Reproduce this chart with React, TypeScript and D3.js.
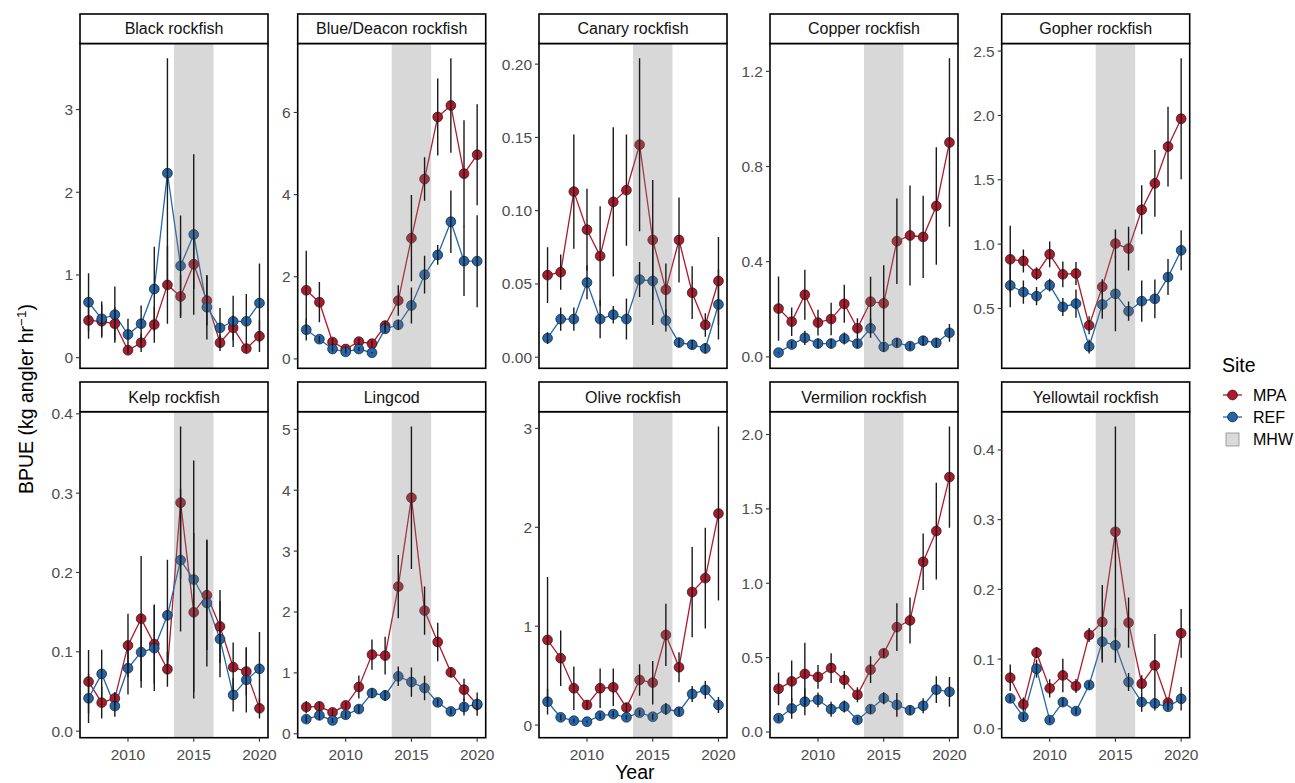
import React from "react";
import * as d3 from "d3";

const years = [2007, 2008, 2009, 2010, 2011, 2012, 2013, 2014, 2015, 2016, 2017, 2018, 2019, 2020];
const mhwStart = 2013.5;
const mhwEnd = 2016.5;
const siteNames = ["MPA", "REF"];

const blackMPA = [0.45, 0.44, 0.41, 0.09, 0.18, 0.4, 0.88, 0.74, 1.13, 0.69, 0.18, 0.36, 0.11, 0.26];
const blackMPAse = [0.22, 0.2, 0.2, 0.04, 0.11, 0.22, 0.47, 0.26, 0.3, 0.3, 0.1, 0.15, 0.05, 0.19];
const blackREF = [0.67, 0.47, 0.52, 0.28, 0.41, 0.83, 2.23, 1.11, 1.49, 0.61, 0.36, 0.44, 0.44, 0.66];
const blackREFse = [0.35, 0.21, 0.34, 0.19, 0.22, 0.51, 1.39, 0.61, 0.97, 0.39, 0.24, 0.31, 0.33, 0.48];
const blackTicks = [0, 1, 2, 3];

const blueMPA = [1.67, 1.38, 0.41, 0.24, 0.42, 0.37, 0.81, 1.42, 2.94, 4.38, 5.89, 6.17, 4.51, 4.97];
const blueMPAse = [0.96, 0.49, 0.1, 0.06, 0.08, 0.08, 0.12, 0.37, 1.05, 0.53, 0.94, 1.15, 1.3, 1.23];
const blueREF = [0.71, 0.48, 0.24, 0.17, 0.24, 0.15, 0.73, 0.83, 1.3, 2.05, 2.53, 3.34, 2.38, 2.38];
const blueREFse = [0.26, 0.08, 0.06, 0.03, 0.05, 0.02, 0.1, 0.12, 0.44, 0.46, 0.24, 0.76, 0.85, 1.12];
const blueTicks = [0, 2, 4, 6];

const canaryMPA = [0.056, 0.058, 0.113, 0.087, 0.069, 0.106, 0.114, 0.145, 0.08, 0.046, 0.08, 0.044, 0.022, 0.052];
const canaryMPAse = [0.019, 0.012, 0.039, 0.028, 0.034, 0.051, 0.038, 0.059, 0.041, 0.018, 0.029, 0.018, 0.008, 0.03];
const canaryREF = [0.013, 0.026, 0.026, 0.051, 0.026, 0.029, 0.026, 0.053, 0.052, 0.025, 0.01, 0.0085, 0.006, 0.036];
const canaryREFse = [0.004, 0.008, 0.008, 0.0115, 0.013, 0.006, 0.014, 0.012, 0.03, 0.0075, 0.003, 0.003, 0.0035, 0.024];
const canaryTicks = [0, 0.05, 0.1, 0.15, 0.2];

const copperMPA = [0.203, 0.148, 0.261, 0.144, 0.159, 0.223, 0.12, 0.232, 0.225, 0.486, 0.51, 0.504, 0.634, 0.901];
const copperMPAse = [0.135, 0.06, 0.105, 0.054, 0.068, 0.08, 0.042, 0.105, 0.16, 0.18, 0.21, 0.173, 0.247, 0.354];
const copperREF = [0.018, 0.052, 0.08, 0.056, 0.056, 0.077, 0.056, 0.12, 0.042, 0.059, 0.045, 0.068, 0.059, 0.101];
const copperREFse = [0.004, 0.015, 0.03, 0.02, 0.02, 0.025, 0.02, 0.04, 0.02, 0.02, 0.015, 0.02, 0.02, 0.037];
const copperTicks = [0, 0.4, 0.8, 1.2];

const gopherMPA = [0.882, 0.869, 0.77, 0.921, 0.765, 0.772, 0.369, 0.668, 1.004, 0.965, 1.267, 1.472, 1.758, 1.974];
const gopherMPAse = [0.26, 0.09, 0.05, 0.1, 0.1, 0.09, 0.07, 0.06, 0.11, 0.17, 0.19, 0.26, 0.31, 0.47];
const gopherREF = [0.679, 0.627, 0.596, 0.681, 0.512, 0.538, 0.205, 0.531, 0.614, 0.479, 0.557, 0.575, 0.744, 0.952];
const gopherREFse = [0.17, 0.09, 0.07, 0.05, 0.07, 0.11, 0.055, 0.11, 0.29, 0.075, 0.16, 0.15, 0.14, 0.155];
const gopherTicks = [0.5, 1.0, 1.5, 2.0, 2.5];

const kelpMPA = [0.0624, 0.0359, 0.0414, 0.108, 0.1418, 0.1097, 0.078, 0.288, 0.1498, 0.1713, 0.132, 0.0806, 0.0751, 0.0287];
const kelpMPAse = [0.04, 0.02, 0.008, 0.04, 0.079, 0.05, 0.022, 0.096, 0.1, 0.069, 0.046, 0.031, 0.03, 0.0127];
const kelpREF = [0.0414, 0.0722, 0.0316, 0.0793, 0.0996, 0.1046, 0.146, 0.2156, 0.1911, 0.1616, 0.116, 0.0456, 0.0646, 0.0785];
const kelpREFse = [0.031, 0.0303, 0.0136, 0.033, 0.045, 0.054, 0.07, 0.09, 0.15, 0.08, 0.048, 0.021, 0.041, 0.0464];
const kelpTicks = [0, 0.1, 0.2, 0.3, 0.4];

const lingMPA = [0.439, 0.45, 0.351, 0.466, 0.768, 1.3, 1.283, 2.418, 3.876, 2.023, 1.508, 1.009, 0.724, 0.477];
const lingMPAse = [0.1, 0.08, 0.06, 0.06, 0.19, 0.25, 0.31, 0.52, 1.17, 0.395, 0.315, 0.08, 0.18, 0.1];
const lingREF = [0.241, 0.302, 0.219, 0.312, 0.406, 0.669, 0.63, 0.943, 0.85, 0.751, 0.515, 0.367, 0.439, 0.488];
const lingREFse = [0.06, 0.07, 0.04, 0.06, 0.07, 0.08, 0.09, 0.16, 0.24, 0.2, 0.06, 0.05, 0.14, 0.19];
const lingTicks = [0, 1, 2, 3, 4, 5];

const oliveMPA = [0.861, 0.676, 0.372, 0.203, 0.372, 0.382, 0.176, 0.456, 0.429, 0.912, 0.584, 1.345, 1.486, 2.139];
const oliveMPAse = [0.636, 0.28, 0.22, 0.04, 0.2, 0.19, 0.05, 0.16, 0.22, 0.314, 0.152, 0.456, 0.51, 0.88];
const oliveREF = [0.236, 0.078, 0.044, 0.034, 0.095, 0.111, 0.078, 0.125, 0.084, 0.162, 0.135, 0.314, 0.355, 0.203];
const oliveREFse = [0.13, 0.03, 0.02, 0.012, 0.03, 0.03, 0.02, 0.03, 0.03, 0.06, 0.04, 0.08, 0.09, 0.08];
const oliveTicks = [0, 1, 2, 3];

const vermMPA = [0.29, 0.34, 0.39, 0.37, 0.43, 0.35, 0.25, 0.419, 0.529, 0.705, 0.75, 1.144, 1.351, 1.714];
const vermMPAse = [0.11, 0.14, 0.21, 0.08, 0.1, 0.06, 0.05, 0.09, 0.03, 0.16, 0.155, 0.19, 0.325, 0.34];
const vermREF = [0.092, 0.158, 0.203, 0.216, 0.153, 0.171, 0.081, 0.153, 0.227, 0.182, 0.146, 0.176, 0.284, 0.27];
const vermREFse = [0.02, 0.07, 0.09, 0.05, 0.05, 0.04, 0.02, 0.03, 0.04, 0.08, 0.03, 0.05, 0.09, 0.1];
const vermTicks = [0, 0.5, 1.0, 1.5, 2.0];

const yellowMPA = [0.0733, 0.035, 0.1092, 0.058, 0.0766, 0.0613, 0.1346, 0.1533, 0.2826, 0.1523, 0.0647, 0.091, 0.0374, 0.137];
const yellowMPAse = [0.019, 0.01, 0.008, 0.013, 0.024, 0.01, 0.01, 0.053, 0.151, 0.036, 0.012, 0.045, 0.005, 0.035];
const yellowREF = [0.0436, 0.0172, 0.0862, 0.0125, 0.0383, 0.0254, 0.0628, 0.125, 0.1198, 0.0671, 0.0383, 0.0364, 0.0316, 0.0431];
const yellowREFse = [0.005, 0.005, 0.013, 0.004, 0.006, 0.005, 0.005, 0.03, 0.025, 0.013, 0.014, 0.01, 0.005, 0.017];
const yellowTicks = [0, 0.1, 0.2, 0.3, 0.4];

const xTicks = [2010, 2015, 2020];

const panels = [
  { name: "Black rockfish", mpa: blackMPA, mpaSE: blackMPAse, ref: blackREF, refSE: blackREFse, ticks: blackTicks, digits: 0 },
  { name: "Blue/Deacon rockfish", mpa: blueMPA, mpaSE: blueMPAse, ref: blueREF, refSE: blueREFse, ticks: blueTicks, digits: 0 },
  { name: "Canary rockfish", mpa: canaryMPA, mpaSE: canaryMPAse, ref: canaryREF, refSE: canaryREFse, ticks: canaryTicks, digits: 2 },
  { name: "Copper rockfish", mpa: copperMPA, mpaSE: copperMPAse, ref: copperREF, refSE: copperREFse, ticks: copperTicks, digits: 1 },
  { name: "Gopher rockfish", mpa: gopherMPA, mpaSE: gopherMPAse, ref: gopherREF, refSE: gopherREFse, ticks: gopherTicks, digits: 1 },
  { name: "Kelp rockfish", mpa: kelpMPA, mpaSE: kelpMPAse, ref: kelpREF, refSE: kelpREFse, ticks: kelpTicks, digits: 1 },
  { name: "Lingcod", mpa: lingMPA, mpaSE: lingMPAse, ref: lingREF, refSE: lingREFse, ticks: lingTicks, digits: 0 },
  { name: "Olive rockfish", mpa: oliveMPA, mpaSE: oliveMPAse, ref: oliveREF, refSE: oliveREFse, ticks: oliveTicks, digits: 0 },
  { name: "Vermilion rockfish", mpa: vermMPA, mpaSE: vermMPAse, ref: vermREF, refSE: vermREFse, ticks: vermTicks, digits: 1 },
  { name: "Yellowtail rockfish", mpa: yellowMPA, mpaSE: yellowMPAse, ref: yellowREF, refSE: yellowREFse, ticks: yellowTicks, digits: 1 },
];

// layout
const COLS = [80, 297.7, 539, 770, 1001.7];
const PANEL_W = 188;
const ROWS = [
  { stripTop: 14, top: 43.5, bottom: 368.3 },
  { stripTop: 382, top: 411.7, bottom: 737.7 },
];
const FONT = "'Liberation Sans', Arial, Helvetica, sans-serif";
const COLORS: Record<string, string> = { MPA: "#B2182B", REF: "#2166AC" };
const PT_R = 4.9;

function Panel({ p, idx }: { p: any; idx: number }) {
  const col = idx % 5;
  const row = Math.floor(idx / 5);
  const left = COLS[col];
  const right = left + PANEL_W;
  const { stripTop, top, bottom } = ROWS[row];

  const x = d3.scaleLinear().domain([years[0] - 0.65, years[years.length - 1] + 0.65]).range([left, right]);
  const lows = [...p.mpa.map((v: number, i: number) => v - p.mpaSE[i]), ...p.ref.map((v: number, i: number) => v - p.refSE[i])];
  const highs = [...p.mpa.map((v: number, i: number) => v + p.mpaSE[i]), ...p.ref.map((v: number, i: number) => v + p.refSE[i])];
  const lo = d3.min(lows) as number;
  const hi = d3.max(highs) as number;
  const pad = (hi - lo) * 0.05;
  const y = d3.scaleLinear().domain([lo - pad, hi + pad]).range([bottom, top]);

  const series = [
    { site: "MPA", vals: p.mpa, se: p.mpaSE },
    { site: "REF", vals: p.ref, se: p.refSE },
  ];
  const line = d3.line<number>().x((_, i) => x(years[i])).y((v) => y(v));
  const fmt = d3.format(`.${p.digits}f`);
  const clipId = `clip${idx}`;

  return (
    <g>
      <defs>
        <clipPath id={clipId}>
          <rect x={left} y={top} width={PANEL_W} height={bottom - top} />
        </clipPath>
      </defs>
      <rect x={left} y={top} width={PANEL_W} height={bottom - top} fill="#fff" />
      <g clipPath={`url(#${clipId})`}>
        {series.map((s) => (
          <path key={s.site + "l"} d={line(s.vals) || ""} fill="none" stroke={COLORS[s.site]} strokeWidth={1.3} />
        ))}
        {series.map((s) =>
          s.vals.map((v: number, i: number) => (
            <circle key={s.site + i} cx={x(years[i])} cy={y(v)} r={PT_R} fill={COLORS[s.site]} stroke="#1a1a1a" strokeWidth={0.7} />
          ))
        )}
        <rect x={x(mhwStart)} y={top} width={x(mhwEnd) - x(mhwStart)} height={bottom - top} fill="#7f7f7f" fillOpacity={0.3} />
        {series.map((s) =>
          s.vals.map((v: number, i: number) => (
            <line key={s.site + "e" + i} x1={x(years[i])} x2={x(years[i])} y1={y(v - s.se[i])} y2={y(v + s.se[i])} stroke="#1a1a1a" strokeWidth={1.4} />
          ))
        )}
      </g>
      <rect x={left} y={top} width={PANEL_W} height={bottom - top} fill="none" stroke="#000" strokeWidth={1.6} />
      {/* strip */}
      <rect x={left} y={stripTop} width={PANEL_W} height={top - stripTop} fill="#fff" stroke="#000" strokeWidth={1.6} />
      <text x={(left + right) / 2} y={(stripTop + top) / 2 + 5.7} textAnchor="middle" fontSize={16} fontFamily={FONT} fill="#111">
        {p.name}
      </text>
      {/* y axis */}
      {p.ticks.map((t: number) => (
        <g key={"yt" + t}>
          <line x1={left - 4} x2={left} y1={y(t)} y2={y(t)} stroke="#333" strokeWidth={1.1} />
          <text x={left - 7} y={y(t) + 5.5} textAnchor="end" fontSize={15.5} fontFamily={FONT} fill="#4d4d4d">
            {fmt(t)}
          </text>
        </g>
      ))}
      {/* x axis */}
      {row === 1 &&
        xTicks.map((t) => (
          <g key={"xt" + t}>
            <line x1={x(t)} x2={x(t)} y1={bottom} y2={bottom + 4} stroke="#333" strokeWidth={1.1} />
            <text x={x(t)} y={bottom + 22} textAnchor="middle" fontSize={15.5} fontFamily={FONT} fill="#4d4d4d">
              {t}
            </text>
          </g>
        ))}
    </g>
  );
}

export default function App() {
  const legendX = 1223;
  const legendRows = [395, 417];
  return (
    <svg width={1295} height={783} style={{ position: "absolute", left: 0, top: 0, background: "#fff" }}>
      <rect x={0} y={0} width={1295} height={783} fill="#fff" />
      {panels.map((p, i) => (
        <Panel key={p.name} p={p} idx={i} />
      ))}
      {/* axis titles */}
      <text x={(COLS[0] + COLS[4] + PANEL_W) / 2} y={779} textAnchor="middle" fontSize={19.5} fontFamily={FONT} fill="#000">
        Year
      </text>
      <text transform="translate(33,494) rotate(-90)" textAnchor="start" fontSize={19.5} fontFamily={FONT} fill="#000">
        BPUE (kg angler hr
        <tspan dy={-7} fontSize={13.5}>−1</tspan>
        <tspan dy={7}>)</tspan>
      </text>
      {/* legend */}
      <text x={1222} y={372} fontSize={19.5} fontFamily={FONT} fill="#000">
        Site
      </text>
      {siteNames.map((s, i) => (
        <g key={s}>
          <line x1={legendX} x2={legendX + 19} y1={legendRows[i]} y2={legendRows[i]} stroke={COLORS[s]} strokeWidth={1.3} />
          <circle cx={legendX + 9.5} cy={legendRows[i]} r={PT_R} fill={COLORS[s]} stroke="#1a1a1a" strokeWidth={0.7} />
          <text x={1253} y={legendRows[i] + 5.8} fontSize={16} fontFamily={FONT} fill="#000">
            {s}
          </text>
        </g>
      ))}
      <rect x={legendX + 3} y={433} width={13} height={13} fill="#dadada" stroke="#8c8c8c" strokeWidth={0.8} />
      <text x={1253} y={445.3} fontSize={16} fontFamily={FONT} fill="#000">
        MHW
      </text>
    </svg>
  );
}
